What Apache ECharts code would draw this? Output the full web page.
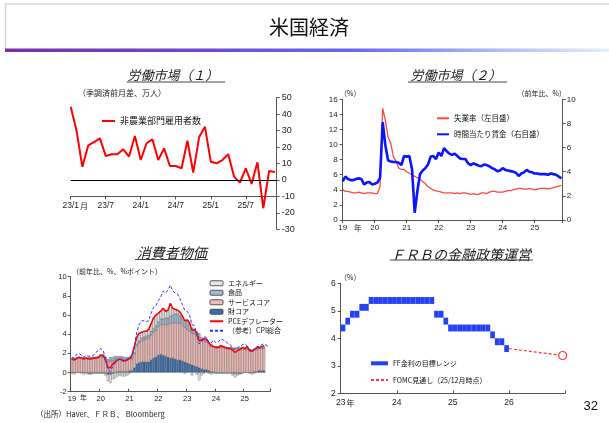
<!DOCTYPE html>
<html>
<head>
<meta charset="utf-8">
<script src="https://cdn.jsdelivr.net/npm/echarts@6/dist/echarts.min.js"></script>
<style>
  html, body { margin: 0; padding: 0; background: #fff; }
  #c { width: 609px; height: 423px; }
</style>
</head>
<body>
<div id="c"></div>
<script>
// ---- 労働市場（１）: 非農業部門雇用者数（季調済前月差、万人）23/1〜25/12 ----
const payrollTicks = ['23/1', '23/7', '24/1', '24/7', '25/1', '25/7'];
const payrollChange = [44.5, 30, 8, 21, 23, 25.3, 14.6, 15.6, 15.6, 18.6, 14.2, 26.7,
  12.1, 22.3, 24.7, 12.1, 19.2, 8.5, 8.5, 7.1, 23.9, 4.5, 25.9, 32.4,
  11.1, 10.1, 12.1, 15.6, 2, -1.6, 7.1, -2.4, 10.7, -17.2, 5.5, 4.9];
// 横軸を置く水準（万人）
const payrollAxisLevel = -10;

// ---- 労働市場（２）: 月次 19/1〜25/11（25/10 は欠測） ----
const yearTicks = ['19', '20', '21', '22', '23', '24', '25'];
const unemploymentRate = [
  4.0, 3.8, 3.8, 3.7, 3.6, 3.6, 3.7, 3.6, 3.5, 3.6, 3.6, 3.6,
  3.5, 3.5, 4.4, 14.8, 13.2, 11.0, 10.2, 8.4, 7.8, 6.9, 6.7, 6.7,
  6.4, 6.2, 6.0, 5.8, 5.6, 5.4, 5.1, 4.8, 4.4, 4.2, 3.95, 3.85,
  3.8, 3.7, 3.6, 3.6, 3.6, 3.6, 3.5, 3.6, 3.5, 3.6, 3.6, 3.5,
  3.4, 3.5, 3.4, 3.4, 3.6, 3.6, 3.5, 3.7, 3.8, 3.8, 3.7, 3.7,
  3.7, 3.8, 3.9, 3.9, 4.0, 4.1, 4.2, 4.2, 4.1, 4.1, 4.2, 4.1,
  4.0, 4.1, 4.2, 4.2, 4.2, 4.1, 4.2, 4.3, 4.4, null, 4.6];
const hourlyEarnings = [
  3.2, 3.6, 3.4, 3.3, 3.3, 3.4, 3.45, 3.4, 2.95, 3.1, 3.15, 2.95,
  3.0, 3.1, 3.5, 8.1, 6.2, 4.95, 4.85, 4.8, 4.8, 4.75, 4.55, 5.3,
  5.25, 5.3, 4.2, 0.6, 2.4, 3.8, 4.1, 4.3, 4.6, 5.25, 5.3, 5.05,
  5.6, 5.3, 5.95, 5.7, 5.5, 5.4, 5.5, 5.3, 5.1, 5.05, 5.05, 4.7,
  4.55, 4.7, 4.6, 4.5, 4.45, 4.6, 4.55, 4.45, 4.3, 4.2, 4.05, 4.1,
  4.3, 4.15, 4.1, 4.05, 4.0, 3.9, 3.65, 3.85, 3.95, 4.15, 4.0, 3.95,
  3.85, 3.85, 3.8, 3.8, 3.8, 3.75, 3.85, 3.8, 3.75, null, 3.45];

// ---- 消費者物価: PCEデフレーターの寄与度（前年比、%ポイント）19/1〜25/9 ----
const coreGoods = [
  0.0, 0.0, 0.0, 0.0, 0.0, 0.0, 0.0, -0.1, -0.1, -0.1, -0.1, -0.1,
  -0.1, -0.1, -0.1, -0.2, -0.2, -0.1, 0.0, 0.1, 0.1, 0.1, 0.1, 0.1,
  0.2, 0.2, 0.5, 0.9, 1.0, 1.1, 1.1, 1.1, 1.1, 1.3, 1.5, 1.6,
  1.8, 1.9, 1.8, 1.7, 1.6, 1.5, 1.5, 1.4, 1.3, 1.3, 1.2, 1.1,
  1.0, 0.9, 0.8, 0.7, 0.6, 0.5, 0.4, 0.3, 0.3, 0.2, 0.1, 0.1,
  -0.1, -0.1, -0.1, -0.1, -0.1, -0.1, -0.1, -0.1, -0.1, -0.1, -0.1, -0.1,
  0.0, 0.0, 0.0, 0.0, 0.1, 0.1, 0.2, 0.2, 0.2];
const coreServices = [
  1.4, 1.4, 1.4, 1.5, 1.5, 1.5, 1.5, 1.5, 1.5, 1.5, 1.5, 1.5,
  1.6, 1.6, 1.4, 1.1, 1.2, 1.2, 1.3, 1.3, 1.3, 1.3, 1.2, 1.2,
  1.2, 1.2, 1.4, 1.9, 2.1, 2.2, 2.3, 2.4, 2.5, 2.6, 2.7, 2.8,
  3.0, 3.1, 3.2, 3.3, 3.4, 3.6, 3.7, 3.8, 3.9, 3.8, 3.7, 3.6,
  3.5, 3.4, 3.3, 3.3, 3.2, 3.2, 3.0, 3.0, 2.9, 2.8, 2.7, 2.6,
  2.6, 2.6, 2.6, 2.6, 2.5, 2.5, 2.5, 2.5, 2.5, 2.5, 2.5, 2.5,
  2.4, 2.4, 2.3, 2.3, 2.3, 2.3, 2.3, 2.3, 2.3];
const food = [
  0.1, 0.1, 0.1, 0.1, 0.1, 0.1, 0.1, 0.1, 0.1, 0.1, 0.1, 0.1,
  0.1, 0.1, 0.2, 0.3, 0.4, 0.4, 0.4, 0.3, 0.3, 0.3, 0.3, 0.3,
  0.2, 0.2, 0.2, 0.2, 0.2, 0.3, 0.3, 0.3, 0.3, 0.4, 0.4, 0.5,
  0.5, 0.6, 0.6, 0.7, 0.7, 0.8, 0.8, 0.9, 0.9, 0.8, 0.8, 0.8,
  0.8, 0.7, 0.6, 0.5, 0.5, 0.4, 0.3, 0.3, 0.2, 0.2, 0.2, 0.1,
  0.1, 0.1, 0.1, 0.1, 0.1, 0.1, 0.1, 0.1, 0.1, 0.1, 0.1, 0.1,
  0.1, 0.1, 0.1, 0.1, 0.1, 0.1, 0.1, 0.1, 0.1];
const energy = [
  -0.1, -0.2, 0.0, 0.0, -0.1, -0.2, -0.1, -0.1, -0.1, 0.0, 0.0, 0.1,
  0.2, 0.2, -0.2, -0.7, -0.9, -0.6, -0.6, -0.4, -0.3, -0.4, -0.4, -0.3,
  -0.1, 0.2, 0.6, 0.7, 0.8, 0.6, 0.6, 0.5, 0.6, 0.8, 1.1, 1.1,
  0.9, 0.8, 1.1, 0.7, 0.8, 1.3, 0.7, 0.5, 0.4, 0.4, 0.2, -0.1,
  0.2, 0.2, -0.3, 0.0, -0.2, -0.8, -0.3, -0.1, 0.1, -0.1, -0.2, -0.1,
  0.0, 0.0, 0.2, 0.1, 0.1, 0.0, 0.0, -0.2, -0.4, -0.2, -0.1, 0.1,
  0.0, 0.2, -0.1, -0.2, -0.1, 0.1, 0.0, 0.1, 0.2];
const pceDeflator = [
  1.4, 1.3, 1.5, 1.6, 1.5, 1.4, 1.5, 1.4, 1.4, 1.5, 1.5, 1.6,
  1.8, 1.8, 1.3, 0.5, 0.5, 0.9, 1.1, 1.3, 1.4, 1.3, 1.2, 1.3,
  1.5, 1.8, 2.7, 3.7, 4.1, 4.2, 4.3, 4.3, 4.5, 5.1, 5.7, 6.0,
  6.2, 6.4, 6.7, 6.4, 6.5, 7.2, 6.7, 6.6, 6.5, 6.3, 5.9, 5.4,
  5.5, 5.2, 4.4, 4.5, 4.1, 3.3, 3.4, 3.5, 3.5, 3.1, 2.8, 2.7,
  2.6, 2.6, 2.8, 2.7, 2.6, 2.5, 2.5, 2.3, 2.1, 2.3, 2.4, 2.6,
  2.5, 2.7, 2.3, 2.2, 2.4, 2.6, 2.6, 2.7, 2.8];
// CPI総合（19/1〜25/11、25/10 は欠測）
const cpiAll = [
  1.6, 1.5, 1.9, 2.0, 1.8, 1.6, 1.8, 1.7, 1.7, 1.8, 2.1, 2.3,
  2.5, 2.3, 1.5, 0.3, 0.1, 0.6, 1.0, 1.3, 1.4, 1.2, 1.2, 1.4,
  1.4, 1.7, 2.6, 4.2, 5.0, 5.4, 5.4, 5.3, 5.4, 6.2, 6.8, 7.0,
  7.5, 7.9, 8.5, 8.3, 8.6, 9.1, 8.5, 8.3, 8.2, 7.7, 7.1, 6.5,
  6.4, 6.0, 5.0, 4.9, 4.0, 3.0, 3.2, 3.7, 3.7, 3.2, 3.1, 3.4,
  3.1, 3.2, 3.5, 3.4, 3.3, 3.0, 2.9, 2.5, 2.4, 2.6, 2.7, 2.9,
  3.0, 2.8, 2.4, 2.3, 2.4, 2.7, 2.7, 2.9, 3.0, null, 2.7];
// 月次カテゴリ（19/1〜25/11）
const priceMonths = [];
yearTicks.forEach(y => { for (let m = 1; m <= 12; m++) priceMonths.push(y + '/' + m); });
priceMonths.length = cpiAll.length;

// ---- ＦＲＢの金融政策運営: FF金利の目標レンジ（23/1〜25/12、月次） ----
const fedTicks = ['23', '24', '25', '26'];
const ffLower = [4.25, 4.5, 4.75, 4.75, 5.0, 5.0, 5.25, 5.25, 5.25, 5.25, 5.25, 5.25,
  5.25, 5.25, 5.25, 5.25, 5.25, 5.25, 5.25, 5.25, 4.75, 4.75, 4.5, 4.25,
  4.25, 4.25, 4.25, 4.25, 4.25, 4.25, 4.25, 4.25, 4.0, 3.75, 3.75, 3.5];
const ffUpper = [4.5, 4.75, 5.0, 5.0, 5.25, 5.25, 5.5, 5.5, 5.5, 5.5, 5.5, 5.5,
  5.5, 5.5, 5.5, 5.5, 5.5, 5.5, 5.5, 5.5, 5.0, 5.0, 4.75, 4.5,
  4.5, 4.5, 4.5, 4.5, 4.5, 4.5, 4.5, 4.5, 4.25, 4.0, 4.0, 3.75];
// FOMC見通し（25/12月時点）: 月位置（23/1 起点）と水準
const fomcMonths = [36, 47.5];
const fomcRates = [3.625, 3.375];

const NUM_FONT = '"Liberation Sans", Arial, sans-serif';
const JP_FONT = '"Noto Sans CJK JP", sans-serif';
const AXIS_COLOR = '#555';

function tickFormatter(labels, step) {
  return function (v) {
    const k = v / step;
    return Number.isInteger(k) && labels[k] !== undefined ? labels[k] : '';
  };
}
function axisCommon(extra) {
  return Object.assign({
    axisLine: { show: true, onZero: false, lineStyle: { color: AXIS_COLOR, width: 1 } },
    axisTick: { show: true, length: 3, lineStyle: { color: AXIS_COLOR } },
    splitLine: { show: false },
  }, extra);
}
function labelStyle(size, margin, extra) {
  return Object.assign({ fontSize: size, margin: margin, color: '#222', fontFamily: NUM_FONT }, extra || {});
}
const monthly = arr => arr.map((v, i) => [i, v]);
// 凡例で線だけを見せる
const lineOnly = name => ({ name: name, itemStyle: { opacity: 0 } });
// 寄与度の棒の共通スタイル
const barStyle = color => ({ color: color, borderColor: '#333', borderWidth: 0.3 });

// 労働市場（１）の目盛範囲と、横軸を -10 の位置へ上げる量
const P1 = { min: -30, max: 50, height: 131.6 };
const p1AxisOffset = -P1.height * (payrollAxisLevel - P1.min) / (P1.max - P1.min);

const chart = echarts.init(document.getElementById('c'));

const option = {
  animation: false,
  backgroundColor: '#fff',
  grid: [
    { left: 70.7, top: 97.7, width: 206, height: P1.height, outerBoundsMode: 'none' },
    { left: 342.7, top: 99.3, width: 220, height: 120.7, outerBoundsMode: 'none' },
    { left: 70.7, top: 276.7, width: 199.3, height: 115, outerBoundsMode: 'none' },
    { left: 340.7, top: 283.3, width: 224.3, height: 110, outerBoundsMode: 'none' }
  ],
  xAxis: [
    axisCommon({
      gridIndex: 0, type: 'value', min: 0, max: 35.3, interval: 6, offset: p1AxisOffset,
      axisLabel: labelStyle(8.5, 5, { formatter: tickFormatter(payrollTicks, 6) })
    }),
    axisCommon({
      gridIndex: 1, type: 'value', min: 0, max: 82.5, interval: 12,
      axisLabel: labelStyle(8, 4, { formatter: tickFormatter(yearTicks, 12) })
    }),
    axisCommon({
      gridIndex: 2, type: 'category', data: priceMonths, boundaryGap: true,
      axisTick: { show: true, inside: true, length: 3, interval: 11, lineStyle: { color: AXIS_COLOR } },
      axisLabel: labelStyle(7.5, 3, {
        interval: 11,
        formatter: v => (v.endsWith('/1') ? v.split('/')[0] : '')
      })
    }),
    axisCommon({
      gridIndex: 3, type: 'value', min: 0, max: 48, interval: 12,
      axisTick: { show: true, inside: true, length: 3, lineStyle: { color: AXIS_COLOR } },
      axisLabel: labelStyle(8.5, 5, { formatter: tickFormatter(fedTicks, 12) })
    })
  ],
  yAxis: [
    axisCommon({
      gridIndex: 0, type: 'value', position: 'right', min: P1.min, max: P1.max, interval: 10,
      axisLabel: labelStyle(9, 5)
    }),
    axisCommon({
      gridIndex: 1, type: 'value', position: 'left', min: 0, max: 16, interval: 2,
      axisLabel: labelStyle(8, 5)
    }),
    axisCommon({
      gridIndex: 1, type: 'value', position: 'right', min: 0, max: 10, interval: 2,
      axisLabel: labelStyle(8, 4)
    }),
    axisCommon({
      gridIndex: 2, type: 'value', min: -2, max: 10, interval: 2,
      axisLabel: labelStyle(7.5, 4)
    }),
    axisCommon({
      gridIndex: 3, type: 'value', min: 2, max: 6, interval: 1,
      axisLabel: labelStyle(8.5, 5)
    })
  ],
  legend: [
    {
      data: [lineOnly('非農業部門雇用者数')], left: 96, top: 111, itemWidth: 13, itemHeight: 6,
      textStyle: { fontSize: 9, lineHeight: 10, color: '#111', fontFamily: JP_FONT },
      selectedMode: false
    },
    {
      data: [lineOnly('失業率（左目盛）'), lineOnly('時間当たり賃金（右目盛）')], orient: 'vertical',
      left: 431, top: 108.3, itemWidth: 12, itemHeight: 6, itemGap: 6,
      textStyle: { fontSize: 7.5, lineHeight: 10, color: '#111', fontFamily: JP_FONT },
      selectedMode: false
    },
    {
      data: ['エネルギー', '食品', 'サービスコア', '財コア', lineOnly('PCEデフレーター'), lineOnly('（参考）CPI総合')],
      orient: 'vertical', left: 204, top: 273.5, itemWidth: 13, itemHeight: 5, itemGap: 0,
      textStyle: { fontSize: 7, lineHeight: 9.5, color: '#111', fontFamily: JP_FONT },
      itemStyle: { borderWidth: 0.8 },
      selectedMode: false
    },
    {
      data: [{ name: 'FF金利の目標レンジ', icon: 'rect' }, lineOnly('FOMC見通し（25/12月時点）')],
      orient: 'vertical', left: 365, top: 353.3, itemWidth: 17, itemHeight: 4, itemGap: 6.7,
      textStyle: { fontSize: 7, lineHeight: 10, color: '#111', fontFamily: JP_FONT },
      selectedMode: false
    }
  ],
  series: [
    // 労働市場（１）
    {
      name: '非農業部門雇用者数', type: 'line', xAxisIndex: 0, yAxisIndex: 0,
      data: monthly(payrollChange), symbol: 'none',
      lineStyle: { color: '#ff0000', width: 2 }, itemStyle: { color: '#ff0000' },
      markLine: {
        silent: true, symbol: ['none', 'none'], label: { show: false },
        lineStyle: { color: '#000', width: 1, type: 'solid' },
        data: [{ yAxis: 0 }]
      }
    },
    // 労働市場（２）
    {
      name: '失業率（左目盛）', type: 'line', xAxisIndex: 1, yAxisIndex: 1,
      data: monthly(unemploymentRate), symbol: 'none', connectNulls: true,
      lineStyle: { color: '#ff4545', width: 1.3 }, itemStyle: { color: '#ff4545' }
    },
    {
      name: '時間当たり賃金（右目盛）', type: 'line', xAxisIndex: 1, yAxisIndex: 2,
      data: monthly(hourlyEarnings), symbol: 'none', connectNulls: true,
      lineStyle: { color: '#0a14ff', width: 2.6 }, itemStyle: { color: '#0a14ff' }
    },
    // 消費者物価（寄与度の積み上げ）
    {
      name: '財コア', type: 'bar', stack: 'pce', xAxisIndex: 2, yAxisIndex: 3,
      data: coreGoods, barCategoryGap: '0%', itemStyle: barStyle('#3c6eaa')
    },
    {
      name: 'サービスコア', type: 'bar', stack: 'pce', xAxisIndex: 2, yAxisIndex: 3,
      data: coreServices, barCategoryGap: '0%', itemStyle: barStyle('#f0bcb8')
    },
    {
      name: '食品', type: 'bar', stack: 'pce', xAxisIndex: 2, yAxisIndex: 3,
      data: food, barCategoryGap: '0%', itemStyle: barStyle('#a3b9cf')
    },
    {
      name: 'エネルギー', type: 'bar', stack: 'pce', xAxisIndex: 2, yAxisIndex: 3,
      data: energy, barCategoryGap: '0%', itemStyle: barStyle('#e6e6e6')
    },
    {
      name: 'PCEデフレーター', type: 'line', xAxisIndex: 2, yAxisIndex: 3, z: 4,
      data: pceDeflator, symbol: 'none',
      lineStyle: { color: '#ff0000', width: 1.5 }, itemStyle: { color: '#ff0000' }
    },
    {
      name: '（参考）CPI総合', type: 'line', xAxisIndex: 2, yAxisIndex: 3, z: 5,
      data: cpiAll, symbol: 'none', connectNulls: true,
      lineStyle: { color: '#3030ff', width: 1, type: [3, 2] }, itemStyle: { color: '#3030ff' }
    },
    // ＦＲＢの金融政策運営
    {
      name: 'FF金利の目標レンジ', type: 'custom', xAxisIndex: 3, yAxisIndex: 4,
      itemStyle: { color: '#2243f5' },
      encode: { x: 0, y: [1, 2] },
      data: ffLower.map((lo, i) => [i, lo, ffUpper[i]]),
      renderItem: function (params, api) {
        const m = api.value(0);
        const topLeft = api.coord([m, api.value(2)]);
        const bottomRight = api.coord([m + 1, api.value(1)]);
        return {
          type: 'rect',
          shape: { x: topLeft[0], y: topLeft[1], width: bottomRight[0] - topLeft[0], height: bottomRight[1] - topLeft[1] },
          style: { fill: api.visual('color') }
        };
      }
    },
    {
      name: 'FOMC見通し（25/12月時点）', type: 'line', xAxisIndex: 3, yAxisIndex: 4,
      symbol: 'none',
      lineStyle: { color: '#ff3535', width: 1.2, type: [3, 2] }, itemStyle: { color: '#ff3535' },
      data: fomcMonths.map((m, i) => (i === fomcMonths.length - 1
        ? { value: [m, fomcRates[i]], symbol: 'circle', symbolSize: 8,
            itemStyle: { color: '#fff', borderColor: '#ff3535', borderWidth: 1.2 } }
        : { value: [m, fomcRates[i]] }))
    }
  ],
  graphic: [
    // ページ枠と見出し
    { type: 'polyline', silent: true, shape: { points: [[5.5, 49], [5.5, 4], [609, 4]] },
      style: { stroke: '#d6d6d6', lineWidth: 1.5, fill: null } },
    { type: 'rect', silent: true, shape: { x: 5, y: 48.5, width: 604, height: 3.5 },
      style: { fill: new echarts.graphic.LinearGradient(0, 0, 1, 0, [
        { offset: 0, color: '#7630a2' },
        { offset: 0.35, color: '#6a4cd2' },
        { offset: 0.58, color: '#6868f2' },
        { offset: 0.8, color: '#aab6f6' },
        { offset: 1, color: '#e8eefa' }
      ]) } },
    { type: 'text', silent: true, x: 309, y: 27,
      style: { text: '米国経済', font: 'normal 20px "Noto Sans CJK JP", sans-serif', fill: '#111', align: 'center', verticalAlign: 'middle' } },

    // パネル見出し
    { type: 'text', silent: true, x: 173, y: 75,
      style: { text: '労働市場（１）', font: 'italic 13px "Noto Sans CJK JP", sans-serif', fill: '#1a1a1a', align: 'center', verticalAlign: 'middle' } },
    { type: 'line', silent: true, shape: { x1: 126.7, y1: 82, x2: 225, y2: 82 }, style: { stroke: '#444', lineWidth: 1 } },
    { type: 'text', silent: true, x: 456, y: 75,
      style: { text: '労働市場（２）', font: 'italic 13px "Noto Sans CJK JP", sans-serif', fill: '#1a1a1a', align: 'center', verticalAlign: 'middle' } },
    { type: 'line', silent: true, shape: { x1: 408, y1: 82, x2: 507, y2: 82 }, style: { stroke: '#444', lineWidth: 1 } },
    { type: 'text', silent: true, x: 171.7, y: 253,
      style: { text: '消費者物価', font: 'italic 14px "Noto Sans CJK JP", sans-serif', fill: '#1a1a1a', align: 'center', verticalAlign: 'middle' } },
    { type: 'line', silent: true, shape: { x1: 135, y1: 259.5, x2: 208, y2: 259.5 }, style: { stroke: '#444', lineWidth: 1 } },
    { type: 'text', silent: true, x: 461, y: 255,
      style: { text: 'ＦＲＢの金融政策運営', font: 'italic 14px "Noto Sans CJK JP", sans-serif', fill: '#1a1a1a', align: 'center', verticalAlign: 'middle' } },
    { type: 'line', silent: true, shape: { x1: 390, y1: 260, x2: 533, y2: 260 }, style: { stroke: '#444', lineWidth: 1 } },

    // 単位
    { type: 'text', silent: true, x: 78, y: 93.3,
      style: { text: '（季調済前月差、万人）', font: '8px "Noto Sans CJK JP", sans-serif', fill: '#222', verticalAlign: 'middle' } },
    { type: 'text', silent: true, x: 340, y: 93,
      style: { text: '（%）', font: '7px "Noto Sans CJK JP", sans-serif', fill: '#222', verticalAlign: 'middle' } },
    { type: 'text', silent: true, x: 566, y: 93,
      style: { text: '（前年比、%）', font: '7px "Noto Sans CJK JP", sans-serif', fill: '#222', align: 'right', verticalAlign: 'middle' } },
    { type: 'text', silent: true, x: 72, y: 271.7,
      style: { text: '（前年比、%、%ポイント）', font: '7px "Noto Sans CJK JP", sans-serif', fill: '#222', verticalAlign: 'middle' } },
    { type: 'text', silent: true, x: 340, y: 277.7,
      style: { text: '（%）', font: '7px "Noto Sans CJK JP", sans-serif', fill: '#222', verticalAlign: 'middle' } },

    // 横軸先頭ラベルの単位
    { type: 'text', silent: true, x: 80, y: 205.5,
      style: { text: '月', font: '8px "Noto Sans CJK JP", sans-serif', fill: '#222', verticalAlign: 'middle' } },
    { type: 'text', silent: true, x: 354, y: 228.5,
      style: { text: '年', font: '7.5px "Noto Sans CJK JP", sans-serif', fill: '#222', verticalAlign: 'middle' } },
    { type: 'text', silent: true, x: 80, y: 397.5,
      style: { text: '年', font: '7px "Noto Sans CJK JP", sans-serif', fill: '#222', verticalAlign: 'middle' } },
    { type: 'text', silent: true, x: 346.5, y: 403,
      style: { text: '年', font: '8px "Noto Sans CJK JP", sans-serif', fill: '#222', verticalAlign: 'middle' } },

    // 出所・ページ番号
    { type: 'text', silent: true, x: 36, y: 414,
      style: { text: '（出所）Haver、ＦＲＢ、 Bloomberg', font: '7.5px "Noto Sans CJK JP", sans-serif', fill: '#222', verticalAlign: 'middle' } },
    { type: 'text', silent: true, x: 598, y: 406,
      style: { text: '32', font: '13px "Liberation Sans", Arial, sans-serif', fill: '#111', align: 'right', verticalAlign: 'middle' } }
  ]
};

chart.setOption(option);
</script>
</body>
</html>
